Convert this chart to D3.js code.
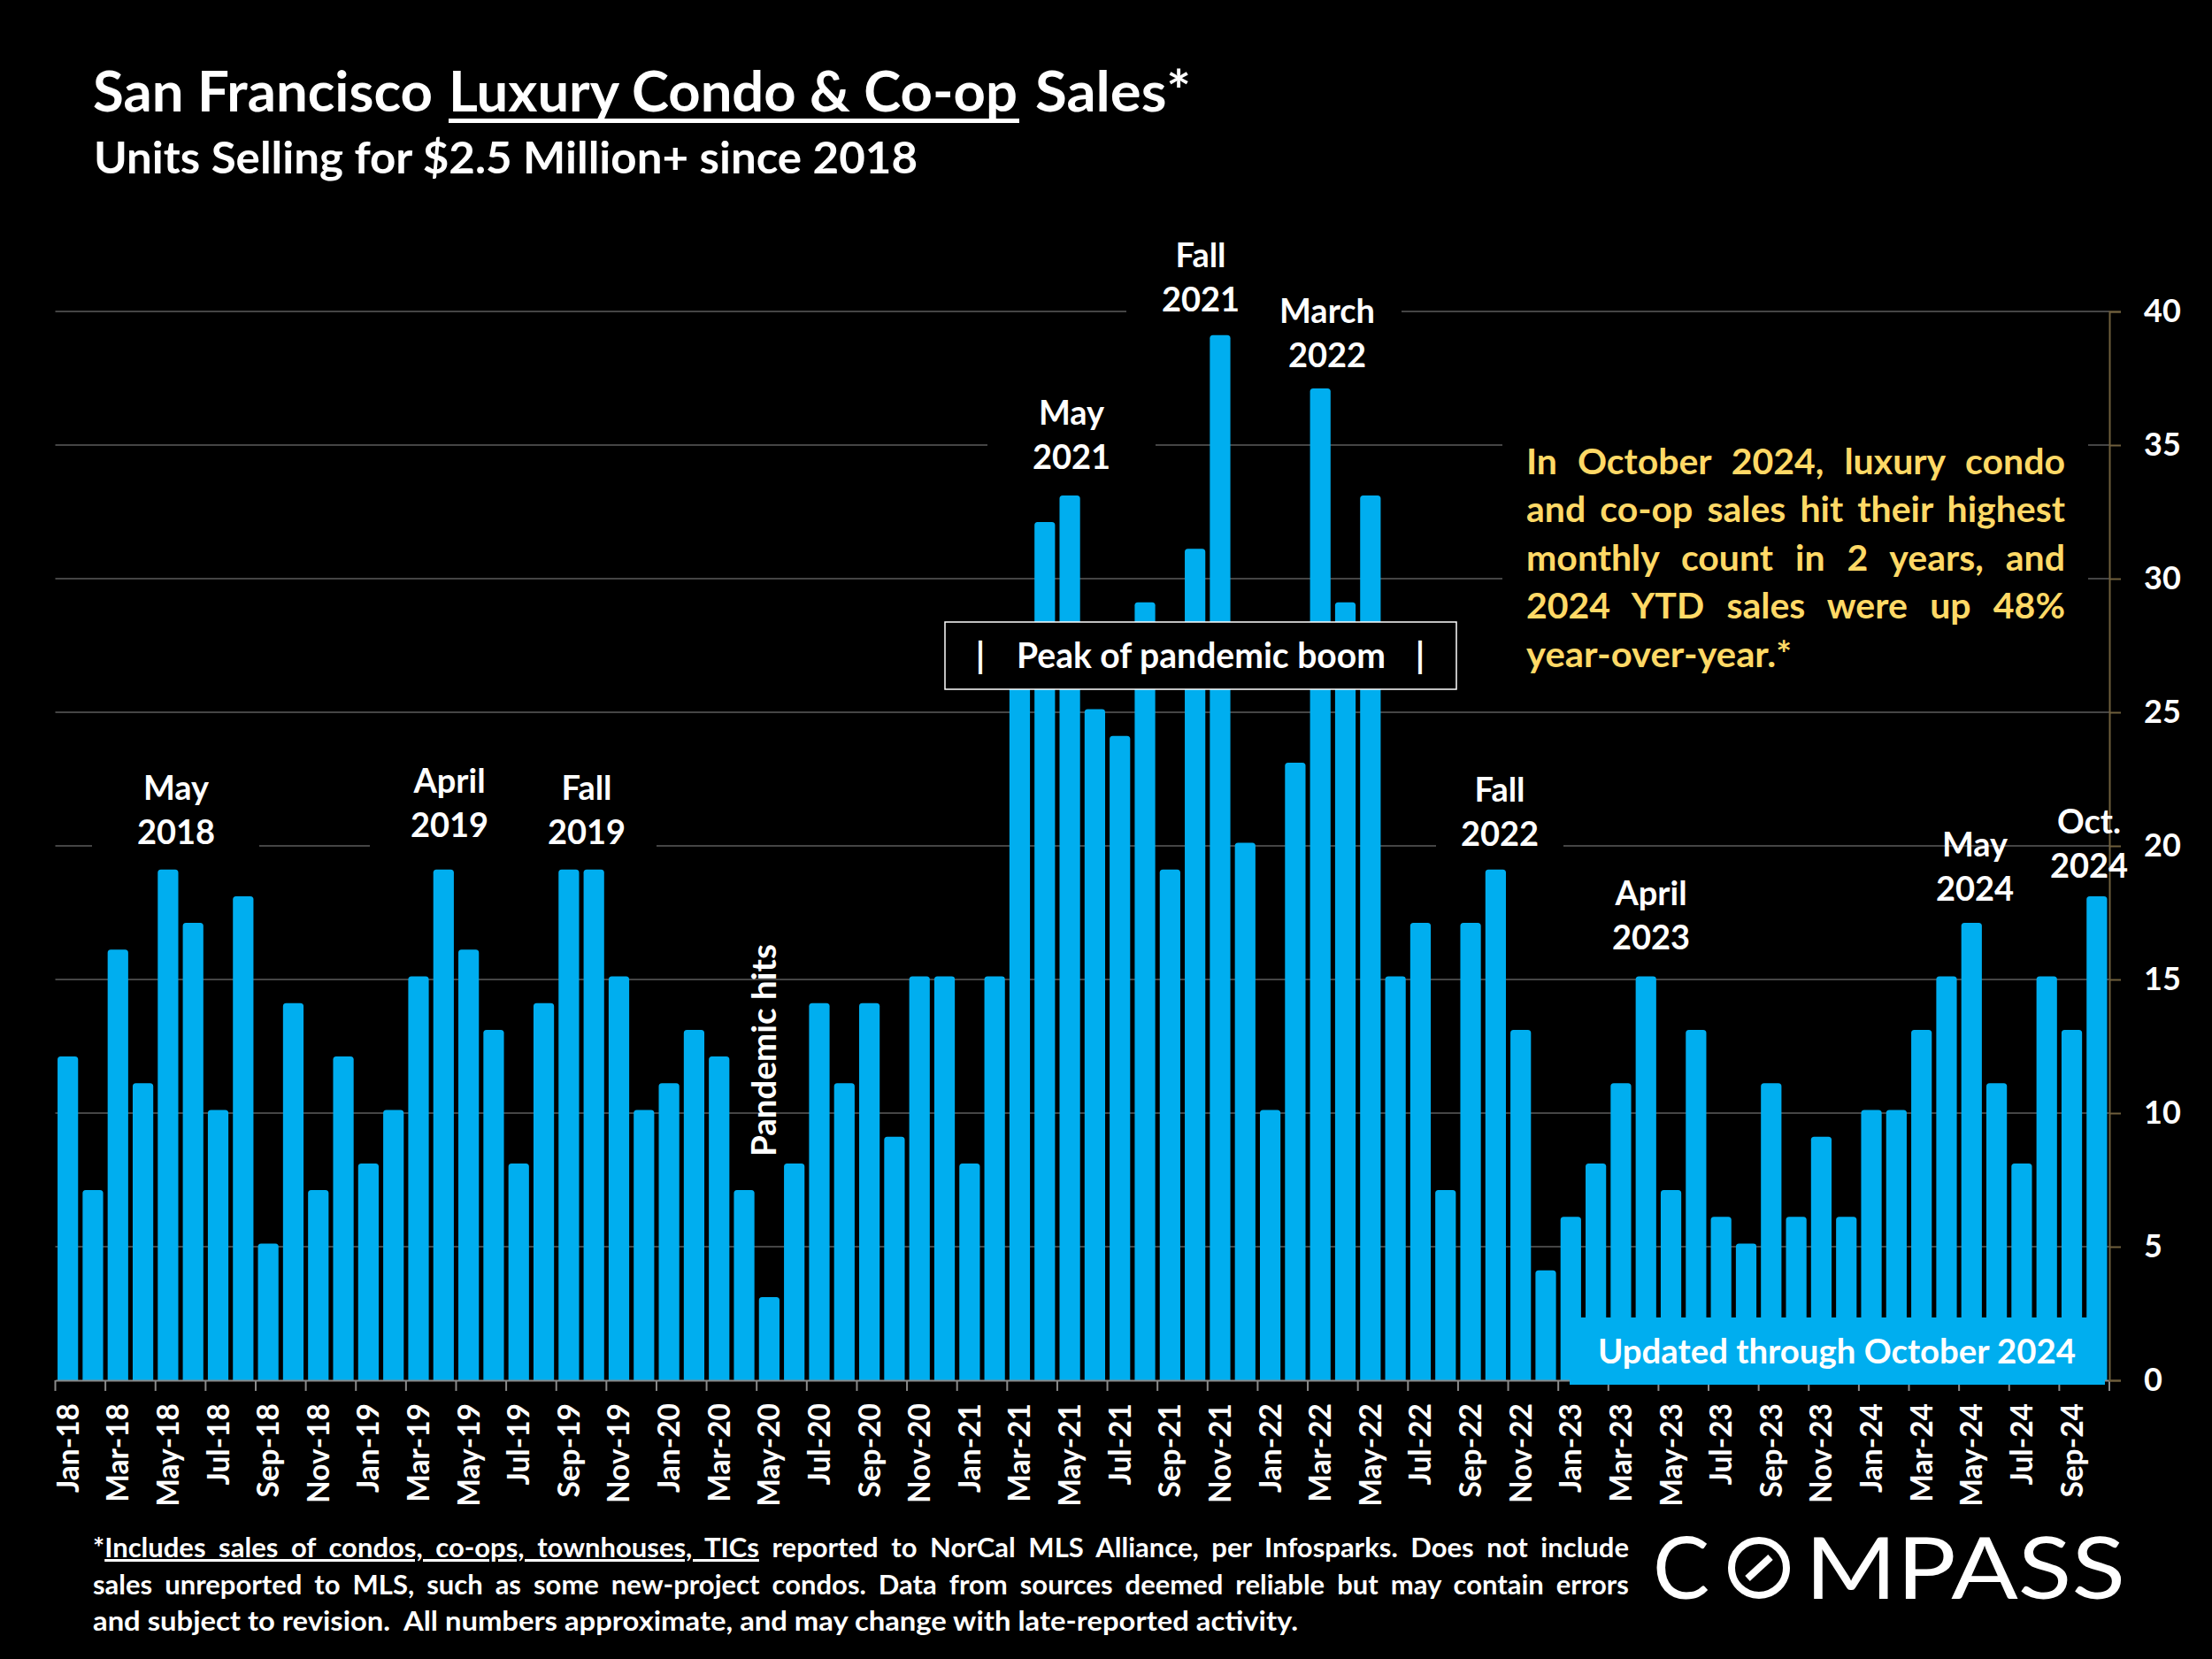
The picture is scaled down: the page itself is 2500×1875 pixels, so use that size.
<!DOCTYPE html>
<html>
<head>
<meta charset="utf-8">
<script src="https://cdn.jsdelivr.net/npm/d3@7/dist/d3.min.js"></script>
<style>
html,body{margin:0;padding:0;background:#000}
svg{display:block}
text{font-family:Lato,"Open Sans",sans-serif;font-weight:700;fill:#fff}
</style>
</head>
<body>
<svg id="c" width="2500" height="1875" xmlns="http://www.w3.org/2000/svg"></svg>
<script>
const monthNames = ["Jan","Feb","Mar","Apr","May","Jun","Jul","Aug","Sep","Oct","Nov","Dec"];
const years = ["18","19","20","21","22","23","24"];
const categories = years.flatMap(yy => monthNames.map(m => m + "-" + yy)).slice(0, 82);
const sales = [
  12,7,16,11,19,17,10,18,5,14,7,12,
  8,10,15,19,16,13,8,14,19,19,15,10,
  11,13,12,7,3,8,14,11,14,9,15,15,
  8,15,27,32,33,25,24,29,19,31,39,20,
  10,23,37,29,33,15,17,7,17,19,13,4,
  6,8,11,15,7,13,6,5,11,6,9,6,
  10,10,13,15,17,11,8,15,13,18
];
const yTicks = [0,5,10,15,20,25,30,35,40];
const titleParts = [
  {t:"San Francisco",x:105,w:384},
  {t:"Luxury Condo & Co-op",x:507,w:643},
  {t:"Sales*",x:1170,w:176}
];
const subtitle = "Units Selling for $2.5 Million+ since 2018";
const calloutLines = [
  "In October 2024, luxury condo",
  "and co-op sales hit their highest",
  "monthly count in 2 years, and",
  "2024 YTD sales were up 48%",
  "year-over-year.*"
];
const noteLines = [
  ["*", "Includes sales of condos, co-ops, townhouses, TICs", " reported to NorCal MLS Alliance, per Infosparks. Does not include"],
  ["sales unreported to MLS, such as some new-project condos. Data from sources deemed reliable but may contain errors"],
  ["and subject to revision.\u00A0 All numbers approximate, and may change with late-reported activity."]
];
const annotations = [
  {l:["May","2018"],cx:199,y:903.5},
  {l:["April","2019"],cx:508,y:895.5},
  {l:["Fall","2019"],cx:663,y:903.5},
  {l:["May","2021"],cx:1211,y:479.5},
  {l:["Fall","2021"],cx:1357,y:301.5},
  {l:["March","2022"],cx:1500,y:364.5},
  {l:["Fall","2022"],cx:1695,y:905.5},
  {l:["April","2023"],cx:1866,y:1022.5},
  {l:["May","2024"],cx:2232,y:967.5},
  {l:["Oct.","2024"],cx:2361,y:941.5}
];
// gaps cut out of gridlines behind the labels: [value, x0, x1]
const gridGaps = [
  [20,104,293],[20,418,742],[20,1623,1767],
  [35,1116,1306],[40,1273,1584],
  [35,1698,2360],[30,1698,2360]
];

const svg = d3.select("#c");
const BLUE = "#00AEEF", GRID = "#454545", TAN = "#6f5f3c", GOLD = "#FFD966";
svg.append("rect").attr("width",2500).attr("height",1875).attr("fill","#000");

const x = d3.scaleBand().domain(categories).range([62.5,2384]).paddingInner(0.18).paddingOuter(0.09);
const y = d3.scaleLinear().domain([0,40]).range([1560,352]);
const step = x.step();

function fit(sel,w){
  const fs = parseFloat(sel.attr("font-size"));
  const len = sel.node().getComputedTextLength();
  sel.attr("font-size", fs*w/len);
  return sel;
}
function justify(sel,w){
  const len = sel.node().getComputedTextLength();
  const n = (sel.text().match(/ /g)||[]).length;
  sel.style("word-spacing",((w-len)/n)+"px");
  return sel;
}
function squeeze(sel,w){
  return sel.attr("textLength",w).attr("lengthAdjust","spacingAndGlyphs");
}

// gridlines
svg.append("g").selectAll("line").data(yTicks.filter(d=>d>0)).join("line")
  .attr("x1",x.range()[0]).attr("x2",x.range()[1])
  .attr("y1",d=>y(d)).attr("y2",d=>y(d))
  .attr("stroke",GRID).attr("stroke-width",2);
svg.append("g").selectAll("rect").data(gridGaps).join("rect")
  .attr("x",d=>d[1]).attr("width",d=>d[2]-d[1])
  .attr("y",d=>y(d[0])-3).attr("height",6).attr("fill","#000");

// bars
function barPath(d,i){
  const c = categories[i], x0 = x(c), x1 = x0+x.bandwidth(), t = y(d)-3.5, b = y(0), r = 3.5;
  const p = d3.path();
  p.moveTo(x0,b); p.lineTo(x0,t+r);
  p.arcTo(x0,t,x0+r,t,r); p.lineTo(x1-r,t);
  p.arcTo(x1,t,x1,t+r,r); p.lineTo(x1,b); p.closePath();
  return p.toString();
}
svg.append("g").selectAll("path").data(sales).join("path")
  .attr("d",barPath).attr("fill",BLUE);

// x axis
const xAxis = d3.axisBottom(x).tickValues(categories.filter((c,i)=>i%2===0)).tickSize(0).tickPadding(0);
const gx = svg.append("g").attr("transform",`translate(0,${y(0)})`).call(xAxis);
gx.select(".domain").attr("stroke","#8a8a8a").attr("stroke-width",2);
gx.selectAll(".tick line").remove();
gx.selectAll(".tick").append("line")
  .attr("x1",-step/2).attr("x2",-step/2).attr("y1",0).attr("y2",12)
  .attr("stroke","#8a8a8a").attr("stroke-width",2);
gx.append("line").attr("x1",x.range()[1]).attr("x2",x.range()[1]).attr("y1",0).attr("y2",12)
  .attr("stroke","#8a8a8a").attr("stroke-width",2);
gx.selectAll(".tick text")
  .attr("font-family",null).attr("font-size",33.5)
  .attr("transform","translate(12,26) rotate(-90)")
  .attr("text-anchor","end").attr("x",0).attr("y",0).attr("dy",0);

// y axis
const yAxis = d3.axisRight(y).tickValues(yTicks).tickSize(13).tickPadding(26).tickFormat(d3.format("d"));
const gy = svg.append("g").attr("transform",`translate(${x.range()[1]},0)`).call(yAxis);
gy.select(".domain").attr("stroke",TAN).attr("stroke-width",2);
gy.selectAll(".tick line").attr("stroke",TAN).attr("stroke-width",2);
gy.selectAll(".tick text").attr("font-size",36).attr("font-family",null);

// title
titleParts.forEach(p=>{
  squeeze(svg.append("text").attr("x",p.x).attr("y",126).attr("font-size",63).text(p.t),p.w);
});
svg.append("rect").attr("x",507).attr("width",645).attr("y",134).attr("height",5).attr("fill","#fff");
squeeze(svg.append("text").attr("x",106).attr("y",195.5).attr("font-size",49).text(subtitle),931);

// annotations
annotations.forEach(a=>{
  a.l.forEach((t,i)=>{
    svg.append("text").attr("x",a.cx).attr("y",a.y+i*50).attr("text-anchor","middle").attr("font-size",38).text(t);
  });
});
svg.append("text")
  .attr("transform","translate(877,1307) rotate(-90)")
  .attr("font-size",36).text("Pandemic hits")
  .call(s=>fit(s,240));

// peak box
svg.append("rect").attr("x",1068).attr("y",703).attr("width",578).attr("height",76)
  .attr("fill","#000").attr("stroke","#fff").attr("stroke-width",1.5);
squeeze(svg.append("text").attr("x",1149).attr("y",755).attr("font-size",40).text("Peak of pandemic boom"),417);
[1108,1605].forEach(px=>svg.append("text").attr("x",px).attr("y",755).attr("text-anchor","middle").attr("font-size",40).text("|"));

// callout
const calloutSize = 41;
calloutLines.forEach((t,i)=>{
  const s = svg.append("text").attr("x",1725).attr("y",535.5+i*54.5).attr("font-size",calloutSize)
    .style("fill",GOLD).text(t);
  if(i<4) justify(s,609); else squeeze(s,300);
});

// updated box
svg.append("rect").attr("x",1774).attr("y",1489).attr("width",605).attr("height",76).attr("fill",BLUE);
squeeze(svg.append("text").attr("x",1806).attr("y",1541).attr("font-size",39).text("Updated through October 2024"),540);

// footnote
noteLines.forEach((parts,i)=>{
  const s = svg.append("text").attr("x",105).attr("y",1760+i*41.5).attr("font-size",31);
  s.selectAll("tspan").data(parts).join("tspan").text(d=>d)
    .style("text-decoration",(d,j)=>(i===0&&j===1)?"underline":null);
  if(i<2) justify(s,1736); else squeeze(s,1362);
});

// logo
const logo = svg.append("g");
logo.append("text").attr("x",1868).attr("y",1807).attr("font-size",96).style("font-weight",400).text("C");
logo.append("circle").attr("cx",1988).attr("cy",1772).attr("r",31).attr("fill","none").attr("stroke","#fff").attr("stroke-width",8);
logo.append("line").attr("x1",1975).attr("y1",1784).attr("x2",2001).attr("y2",1760).attr("stroke","#fff").attr("stroke-width",8);
squeeze(logo.append("text").attr("x",2040).attr("y",1807).attr("font-size",96).style("font-weight",400).text("MPASS"),362);
</script>
</body>
</html>
